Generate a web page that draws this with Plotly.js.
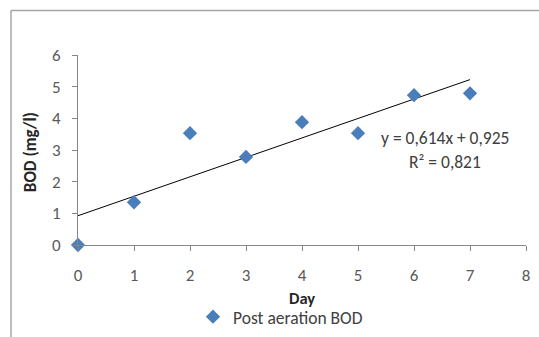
<!DOCTYPE html>
<html>
<head>
<meta charset="utf-8">
<script src="https://cdn.plot.ly/plotly-3.0.1.min.js"></script>
<style>html,body{margin:0;padding:0;background:#fff;}#chart{width:539px;height:337px;}</style>
</head>
<body>
<div id="chart"></div>
<script>
const days = [0, 1, 2, 3, 4, 5, 6, 7];
const bod = [0, 1.35, 3.53, 2.78, 3.88, 3.53, 4.73, 4.79];
const trendSlope = 0.614;
const trendIntercept = 0.925;
const trendX = [0, 7];
const seriesName = 'Post aeration BOD';
const eqText = 'y = 0,614x + 0,925';
const r2Text = 'R² = 0,821';
const xTicks = [0, 1, 2, 3, 4, 5, 6, 7, 8];
const yTicks = [0, 1, 2, 3, 4, 5, 6];

const trendY = trendX.map(x => trendIntercept + trendSlope * x);
const font = 'Carlito, Calibri, "Liberation Sans", Arial, sans-serif';
const gray = '#868686';

const data = [
  {x: trendX, y: trendY, mode: 'lines', line: {color: '#000', width: 1}, showlegend: false, hoverinfo: 'skip'},
  {x: days, y: bod, mode: 'markers', name: seriesName, cliponaxis: false,
   marker: {symbol: 'diamond', size: 11, color: '#4a7ebb'}}
];

const layout = {
  width: 539, height: 337,
  margin: {l: 78, r: 13, t: 55, b: 92, autoexpand: false},
  paper_bgcolor: '#fff', plot_bgcolor: '#fff',
  font: {family: font, size: 17.5, color: '#595959'},
  xaxis: {range: [0, 8], tickvals: xTicks, showgrid: false, zeroline: false, automargin: false,
          showline: true, linecolor: gray, linewidth: 1, ticks: 'outside', ticklen: 5, tickcolor: gray,
          ticklabelstandoff: 10, tickfont: {size: 17, color: '#595959'}},
  yaxis: {range: [0, 6], tickvals: yTicks, showgrid: false, zeroline: false, automargin: false,
          showline: true, linecolor: gray, linewidth: 1, ticks: 'outside', ticklen: 5, tickcolor: gray,
          ticklabelstandoff: 8, tickfont: {size: 17, color: '#595959'}},
  showlegend: true,
  legend: {orientation: 'h', x: 0.452, xanchor: 'center', y: -0.378, yanchor: 'middle',
           font: {size: 17.5, color: '#404040'}, bgcolor: 'rgba(0,0,0,0)'},
  annotations: [
    {text: '<b>Day</b>', xref: 'paper', yref: 'paper', x: 0.5, y: -0.28, showarrow: false,
     font: {size: 16.5, color: '#262626'}, xanchor: 'center', yanchor: 'middle'},
    {text: '<b>BOD (mg/l)</b>', xref: 'paper', yref: 'paper', x: -0.107, y: 0.489, showarrow: false,
     textangle: -90, font: {size: 17, color: '#262626'}, xanchor: 'center', yanchor: 'middle'},
    {text: eqText, xref: 'paper', yref: 'paper', x: 0.819, y: 0.562, showarrow: false,
     font: {size: 17.5, color: '#404040'}, xanchor: 'center', yanchor: 'middle'},
    {text: r2Text, xref: 'paper', yref: 'paper', x: 0.819, y: 0.437, showarrow: false,
     font: {size: 17.5, color: '#404040'}, xanchor: 'center', yanchor: 'middle'}
  ],
  shapes: [
    {type: 'line', xref: 'paper', yref: 'paper', x0: -0.1496, x1: -0.1496, y0: 1.234, y1: -0.5,
     line: {color: '#a6a6a6', width: 1.5}},
    {type: 'line', xref: 'paper', yref: 'paper', x0: -0.1496, x1: 1.1, y0: 1.234, y1: 1.234,
     line: {color: '#a6a6a6', width: 1.5}}
  ]
};

Plotly.newPlot('chart', data, layout, {displayModeBar: false, staticPlot: true});
</script>
</body>
</html>
